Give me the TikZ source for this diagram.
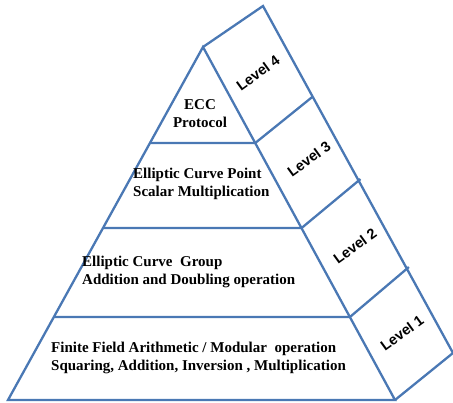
\documentclass[tikz,border=0pt]{standalone}
\usepackage{fontspec}
\setmainfont{Liberation Serif}
\newfontfamily\levelfont{Liberation Sans}
\usetikzlibrary{calc}
\definecolor{pyrblue}{RGB}{74,120,180}

\begin{document}
\begin{tikzpicture}[x=1pt,y=1pt]
	\tikzstyle{every node}+=[inner sep=0pt]
	\tikzstyle{edge}=[draw=pyrblue, line width=2.3pt]
	\tikzstyle{front}=[font=\fontsize{15}{18}\selectfont\bfseries]
	\tikzstyle{side}=[font=\levelfont\fontsize{14.5}{17}\selectfont\bfseries, rotate=36]
	\useasboundingbox (0,0) rectangle (453,-403);
	% corners
	\coordinate (apex) at (203,-47);
	\coordinate (bl) at (8,-400);
	\coordinate (br) at (395,-400);
	\coordinate (top) at (263,-6);
	\coordinate (back) at (453,-353);
	% level lines on the front and side
	\coordinate (l3) at ($(apex)!0.272!(bl)$);
	\coordinate (r3) at ($(apex)!0.272!(br)$);
	\coordinate (l2) at ($(apex)!0.513!(bl)$);
	\coordinate (r2) at ($(apex)!0.513!(br)$);
	\coordinate (l1) at ($(apex)!0.765!(bl)$);
	\coordinate (r1) at ($(apex)!0.765!(br)$);
	\coordinate (s3) at ($(r3)+(57,46)$);
	\coordinate (s2) at ($(r2)+(59,49)$);
	\coordinate (s1) at ($(r1)+(59,50)$);
	\draw [edge] (apex) -- (bl) -- (br) -- cycle;
	\draw [edge] (apex) -- (top) -- (back) -- (br);
	\draw [edge] (l3) -- (r3) -- (s3);
	\draw [edge] (l2) -- (r2) -- (s2);
	\draw [edge] (l1) -- (r1) -- (s1);
	% front texts
	\node [front, align=center] (ecc) at (200,-114) {ECC\\Protocol};
	\node [front, align=left, anchor=west] (point) at (133,-184) {Elliptic Curve Point\\Scalar Multiplication};
	\node [front, align=left, anchor=west] (group) at (82,-272) {Elliptic Curve\ \ Group\\Addition and Doubling operation};
	\node [front, align=left, anchor=west] (field) at (51,-357.5) {Finite Field Arithmetic / Modular\ \ operation\\Squaring, Addition, Inversion , Multiplication};
	% side texts
	\node [side] (lvl4) at (258,-73) {Level 4};
	\node [side] (lvl3) at (309,-159) {Level 3};
	\node [side] (lvl2) at (355,-246) {Level 2};
	\node [side] (lvl1) at (402,-333) {Level 1};
\end{tikzpicture}
\end{document}
